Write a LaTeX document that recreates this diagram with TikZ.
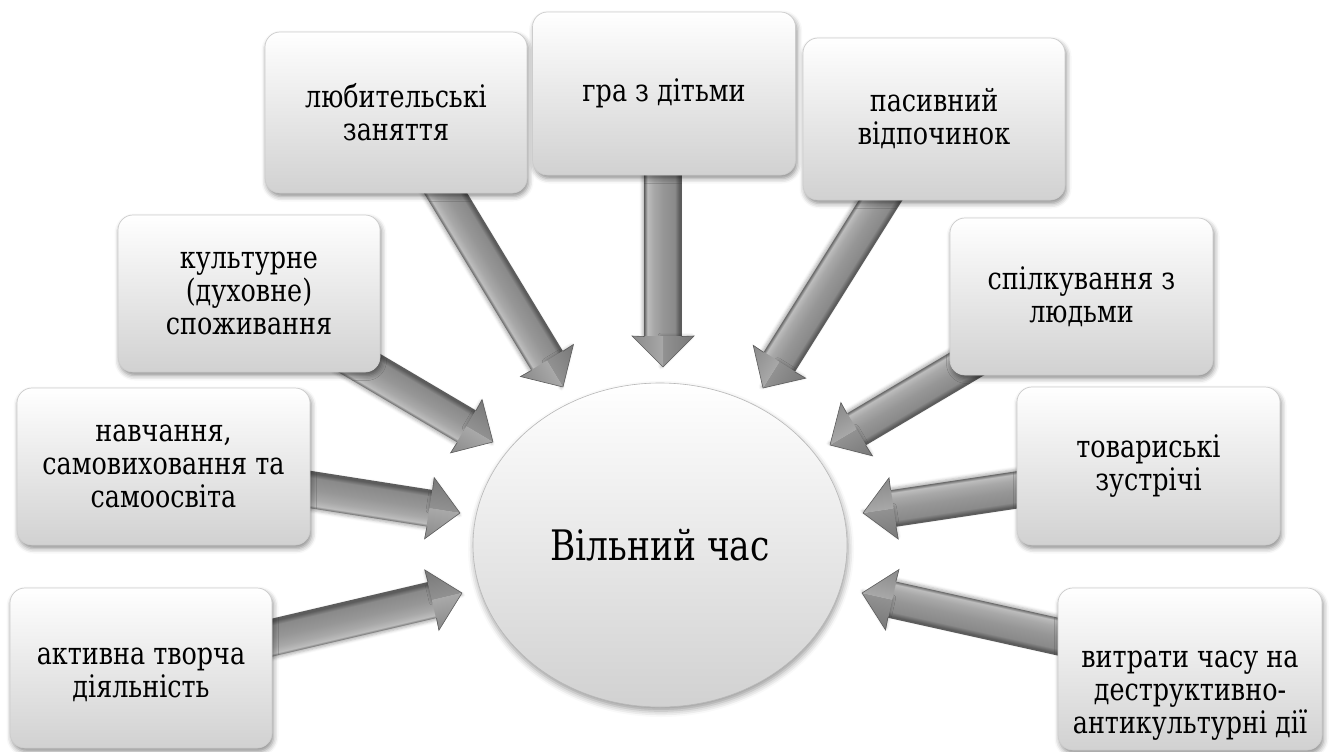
\documentclass[tikz,border=0pt]{standalone}
\usepackage{fontspec}
\setmainfont{DejaVu Serif}
% narrowed serif face for all labels
\newfontfamily\labelserif{DejaVu Serif}[FakeStretch=0.82]
\usetikzlibrary{shapes.geometric,shadows.blur}

% grey tones of the block arrows
\definecolor{arEdgeA}{gray}{0.42}
\definecolor{arHi}{gray}{0.74}
\definecolor{arHiB}{gray}{0.66}
\definecolor{arMid}{gray}{0.59}
\definecolor{arMidB}{gray}{0.54}
\definecolor{arEdgeB}{gray}{0.36}
\definecolor{arHeadA}{gray}{0.47}
\definecolor{arHeadB}{gray}{0.57}
\definecolor{arHeadC}{gray}{0.66}
\definecolor{arHeadD}{gray}{0.54}
\definecolor{boxLine}{gray}{0.80}
\definecolor{boxLow}{gray}{0.82}

% cross profile of an arrow shaft (bottom = right side of the arrow)
\pgfdeclareverticalshading{arrowbody}{100bp}{color(0bp)=(arEdgeA); color(25bp)=(arEdgeA); color(29bp)=(arHi); color(37bp)=(arHiB); color(50bp)=(arMid); color(66bp)=(arMidB); color(72bp)=(arEdgeB); color(75bp)=(arEdgeB); color(100bp)=(arEdgeB)}

\pgfdeclarelayer{arrows}
\pgfsetlayers{arrows,main}

% bevelled block arrow from the coordinate #1 to the coordinate #2
\newcommand\blockarrow[2]{%
  \pgfpointanchor{#1}{center}\pgfgetlastxy{\bax}{\bay}%
  \pgfpointanchor{#2}{center}\pgfgetlastxy{\bbx}{\bby}%
  \pgfmathsetmacro\barang{atan2(\bby-\bay,\bbx-\bax)}%
  \pgfmathsetmacro\barlen{veclen(\bbx-\bax,\bby-\bay)}%
  \begin{scope}[transform canvas={shift={(#1)},rotate=\barang},x=1pt,y=1pt]
    \shade[shading=arrowbody, arrowshadow] (0,-18.5) rectangle (\barlen-30.5,18.5);
    \shade[top color=arHeadA, bottom color=arHeadB, arrowshadow]
      (\barlen-31,0) -- (\barlen-31,31) -- (\barlen,0) -- cycle;
    \shade[top color=arHeadC, bottom color=arHeadD]
      (\barlen-31,0) -- (\barlen-31,-31) -- (\barlen,0) -- cycle;
    \draw[arEdgeB, line width=0.6pt, line join=miter]
      (\barlen-30.5,18.5) -- (\barlen-31,31) -- (\barlen,0) -- (\barlen-31,-31) -- (\barlen-30.5,-18.5);
  \end{scope}}

\begin{document}
\begin{tikzpicture}[x=1pt,y=-1pt,
  arrowshadow/.style={blur shadow={shadow xshift=0pt, shadow yshift=-2pt,
      shadow blur radius=3pt, shadow opacity=30}},
  itembox/.style={draw=boxLine, line width=0.7pt, rounded corners=15pt,
      top color=white, middle color=white!97!black, bottom color=boxLow,
      minimum width=262pt, minimum height=158pt, align=center,
      font=\labelserif\fontsize{31}{33}\selectfont,
      blur shadow={shadow xshift=1.5pt, shadow yshift=-3.5pt,
      shadow blur radius=5pt, shadow opacity=45}},
  centre/.style={ellipse, draw=black!28, line width=0.6pt,
      top color=white, middle color=white, bottom color=black!18,
      minimum width=374pt, minimum height=324pt,
      font=\labelserif\fontsize{42}{48}\selectfont,
      blur shadow={shadow xshift=1pt, shadow yshift=-4pt,
      shadow blur radius=6pt, shadow opacity=40}}]
\useasboundingbox (0,0) rectangle (1331,752);

% centre
\node[centre] (c) at (660,545) {Вільний час};

% surrounding items
\node[itembox, minimum height=160pt] (b1) at (141,668) {\rule{0pt}{30pt}активна творча\\діяльність};
\node[itembox, minimum width=293pt, minimum height=157pt] (b2) at (163.5,466.5) {навчання,\\самовиховання та\\самоосвіта};
\node[itembox, minimum height=157pt] (b3) at (249,293.5) {культурне\\(духовне)\\споживання};
\node[itembox, minimum height=161pt] (b4) at (396,112.5) {любительські\\заняття};
\node[itembox, minimum width=263pt, minimum height=163pt] (b5) at (664,93.5) {гра з дітьми};
\node[itembox, minimum height=162pt] (b6) at (934,119) {пасивний\\відпочинок};
\node[itembox, minimum width=263pt, minimum height=157pt] (b7) at (1081.5,296.5) {спілкування з\\людьми};
\node[itembox, minimum width=263pt] (b8) at (1148.5,466) {товариські\\зустрічі};
% this label sits low in its box
\node[itembox, minimum width=264pt, minimum height=162pt] (b9) at (1190,669) {\rule{0pt}{70pt}витрати часу на\\деструктивно-\\антикультурні дії};

% arrow tails (under the boxes) and tips (in front of the centre)
\coordinate (t1) at (249,643);  \coordinate (p1) at (462,593);
\coordinate (t2) at (288,486);  \coordinate (p2) at (460,513);
\coordinate (t3) at (344,354);  \coordinate (p3) at (493,442);
\coordinate (t4) at (434,174);  \coordinate (p4) at (563,387);
\coordinate (t5) at (663,150);  \coordinate (p5) at (663,367);
\coordinate (t6) at (892,182);  \coordinate (p6) at (763,388);
\coordinate (t7) at (982,355);  \coordinate (p7) at (830,445);
\coordinate (t8) at (1043,486); \coordinate (p8) at (863,513);
\coordinate (t9) at (1082,642); \coordinate (p9) at (862,593);

\begin{pgfonlayer}{arrows}
  \blockarrow{t1}{p1}
  \blockarrow{t2}{p2}
  \blockarrow{t3}{p3}
  \blockarrow{t4}{p4}
  \blockarrow{t5}{p5}
  \blockarrow{t6}{p6}
  \blockarrow{t7}{p7}
  \blockarrow{t8}{p8}
  \blockarrow{t9}{p9}
\end{pgfonlayer}
\end{tikzpicture}
\end{document}
